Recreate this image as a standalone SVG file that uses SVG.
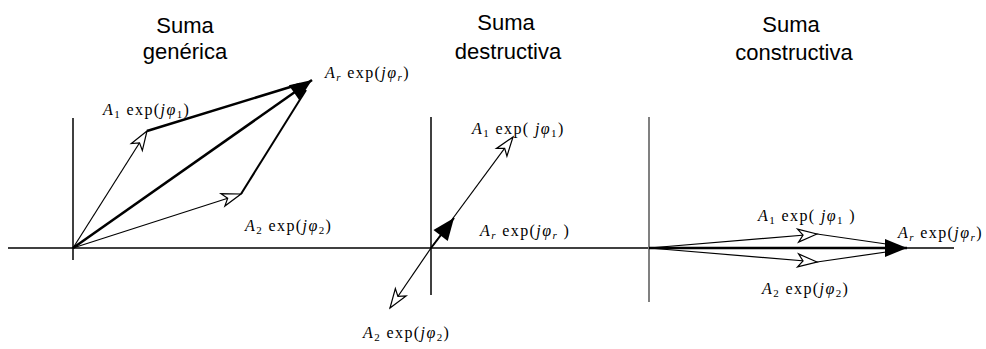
<svg xmlns="http://www.w3.org/2000/svg" width="986" height="349" viewBox="0 0 986 349">
<style>
.title{font-family:"Liberation Sans",Arial,sans-serif;font-size:22px;fill:#000;text-anchor:middle}
.lbl{font-family:"Liberation Serif","Times New Roman",serif;font-size:16px;letter-spacing:1.4px;fill:#000}
.it{font-style:italic}
.sub{font-size:11px}
.axis{stroke:#000;stroke-width:1.5;fill:none}
.v{stroke:#000;stroke-width:1.2;fill:none}
.vt{stroke:#000;stroke-width:2.5;fill:none}
.vm{stroke:#000;stroke-width:2;fill:none}
</style>
<defs>
<marker id="open" viewBox="-22 -9 24 18" refX="0" refY="0" markerWidth="24" markerHeight="18" markerUnits="userSpaceOnUse" orient="auto">
<path d="M0,0 L-19,-6.5 L-14,0 L-19,6.5 Z" fill="#fff" stroke="#000" stroke-width="1.2" stroke-linejoin="miter"/>
</marker>
<marker id="fill" viewBox="-24 -12 26 24" refX="0" refY="0" markerWidth="26" markerHeight="24" markerUnits="userSpaceOnUse" orient="auto">
<path d="M0,0 L-22,-9 L-22,9 Z" fill="#000"/>
</marker>
</defs>
<g id="axes">
<line class="axis" x1="8" y1="248" x2="954" y2="248"/>
<line class="axis" x1="73" y1="118" x2="73" y2="260"/>
<line class="axis" x1="431" y1="117" x2="431" y2="295"/>
<line x1="649" y1="117" x2="649" y2="302" stroke="#808080" stroke-width="2"/>
</g>
<g id="titles">
<text class="title" x="185" y="33">Suma</text>
<text class="title" x="185" y="59">genérica</text>
<text class="title" x="506" y="30">Suma</text>
<text class="title" x="508" y="59">destructiva</text>
<text class="title" x="791" y="32">Suma</text>
<text class="title" x="794" y="60">constructiva</text>
</g>
<g id="connectors">
<line class="v" x1="73" y1="248" x2="147" y2="131" marker-end="url(#open)"/>
<line class="v" x1="73" y1="248" x2="241" y2="194" marker-end="url(#open)"/>
<line class="vt" x1="147" y1="131" x2="300" y2="84"/>
<line class="vm" x1="241" y1="194" x2="306" y2="90"/>
<line class="vt" x1="73" y1="248" x2="312" y2="80" marker-end="url(#fill)"/>
<line class="v" x1="431" y1="248" x2="513" y2="137" marker-end="url(#open)"/>
<line class="v" x1="431" y1="248" x2="390" y2="308" marker-end="url(#open)"/>
<line class="vm" x1="431" y1="248" x2="454" y2="218" marker-end="url(#fill)"/>
<line class="v" x1="649" y1="248" x2="817" y2="234" marker-end="url(#open)"/>
<line class="v" x1="649" y1="248" x2="817" y2="262" marker-end="url(#open)"/>
<line class="v" x1="817" y1="234" x2="900" y2="246"/>
<line class="v" x1="817" y1="262" x2="900" y2="250"/>
<line class="vt" x1="649" y1="248" x2="907" y2="248" marker-end="url(#fill)"/>
</g>
<g id="labels">
<text class="lbl" x="103" y="115"><tspan class="it">A</tspan><tspan class="sub" dy="3">1</tspan><tspan dy="-3"> exp(</tspan><tspan class="it">j</tspan><tspan class="it">φ</tspan><tspan class="sub" dy="3">1</tspan><tspan dy="-3">)</tspan></text>
<text class="lbl" x="325" y="78"><tspan class="it">A</tspan><tspan class="sub it" dy="3">r</tspan><tspan dy="-3"> exp(</tspan><tspan class="it">j</tspan><tspan class="it">φ</tspan><tspan class="sub it" dy="3">r</tspan><tspan dy="-3">)</tspan></text>
<text class="lbl" x="245" y="231"><tspan class="it">A</tspan><tspan class="sub" dy="3">2</tspan><tspan dy="-3"> exp(</tspan><tspan class="it">j</tspan><tspan class="it">φ</tspan><tspan class="sub" dy="3">2</tspan><tspan dy="-3">)</tspan></text>
<text class="lbl" x="472" y="134"><tspan class="it">A</tspan><tspan class="sub" dy="3">1</tspan><tspan dy="-3"> exp( </tspan><tspan class="it">j</tspan><tspan class="it">φ</tspan><tspan class="sub" dy="3">1</tspan><tspan dy="-3">)</tspan></text>
<text class="lbl" x="480" y="236"><tspan class="it">A</tspan><tspan class="sub it" dy="3">r</tspan><tspan dy="-3"> exp(</tspan><tspan class="it">j</tspan><tspan class="it">φ</tspan><tspan class="sub it" dy="3">r</tspan><tspan dy="-3"> )</tspan></text>
<text class="lbl" x="363" y="338"><tspan class="it">A</tspan><tspan class="sub" dy="3">2</tspan><tspan dy="-3"> exp(</tspan><tspan class="it">j</tspan><tspan class="it">φ</tspan><tspan class="sub" dy="3">2</tspan><tspan dy="-3">)</tspan></text>
<text class="lbl" x="758" y="221"><tspan class="it">A</tspan><tspan class="sub" dy="3">1</tspan><tspan dy="-3"> exp( </tspan><tspan class="it">j</tspan><tspan class="it">φ</tspan><tspan class="sub" dy="3">1</tspan><tspan dy="-3"> )</tspan></text>
<text class="lbl" x="898" y="238"><tspan class="it">A</tspan><tspan class="sub it" dy="3">r</tspan><tspan dy="-3"> exp(</tspan><tspan class="it">j</tspan><tspan class="it">φ</tspan><tspan class="sub it" dy="3">r</tspan><tspan dy="-3">)</tspan></text>
<text class="lbl" x="762" y="294"><tspan class="it">A</tspan><tspan class="sub" dy="3">2</tspan><tspan dy="-3"> exp(</tspan><tspan class="it">j</tspan><tspan class="it">φ</tspan><tspan class="sub" dy="3">2</tspan><tspan dy="-3">)</tspan></text>
</g>
</svg>
